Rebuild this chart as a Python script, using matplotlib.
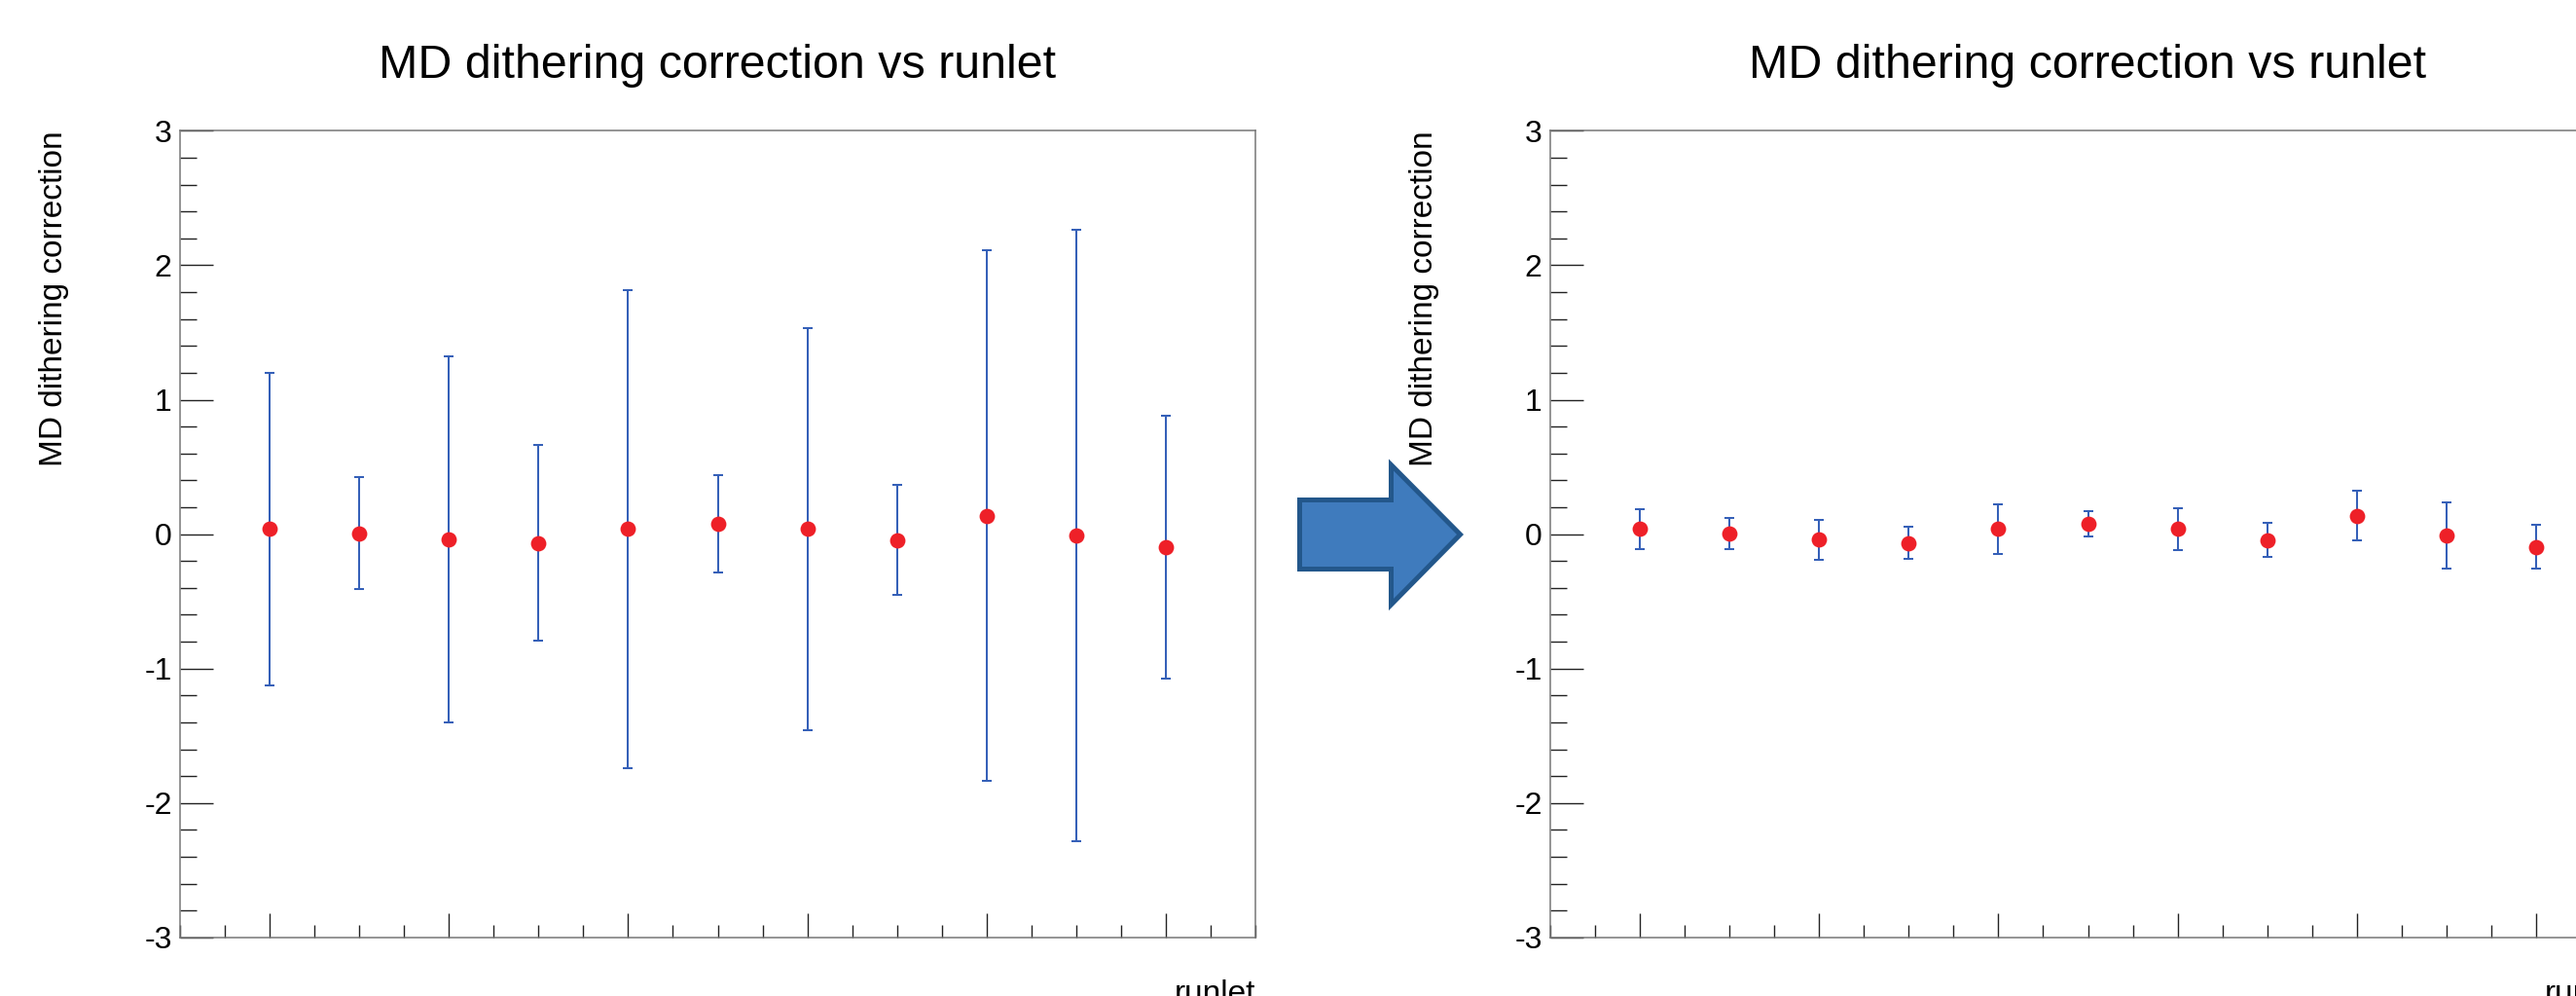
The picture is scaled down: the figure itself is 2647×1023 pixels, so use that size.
import matplotlib
matplotlib.use("Agg")
import matplotlib.pyplot as plt
from matplotlib.ticker import MultipleLocator, FixedLocator
from matplotlib.patches import Polygon

# runlet number and the MD dithering correction
runlet = [1, 2, 3, 4, 5, 6, 7, 8, 9, 10, 11]
md_corr = [0.037, 0.005, -0.042, -0.066, 0.037, 0.075, 0.037, -0.043, 0.137, -0.010, -0.094]

# errors before (left) and after (right)
err_before = [1.160, 0.416, 1.361, 0.726, 1.776, 0.362, 1.496, 0.411, 1.973, 2.273, 0.978]
err_after = [0.147, 0.113, 0.147, 0.119, 0.187, 0.096, 0.156, 0.124, 0.185, 0.249, 0.160]

title = "MD dithering correction vs runlet"
y_title = "MD dithering correction"
x_title = "runlet"

plt.rcParams["font.family"] = ["Liberation Sans", "DejaVu Sans"]
# plain hyphen for negative tick labels, like the original
plt.rcParams["axes.unicode_minus"] = False

W, H = 2647, 1023
fig = plt.figure(figsize=(W / 100, H / 100), dpi=100)


def make_panel(left_px, errs):
    # axes placed in pixels, the right one runs off the edge of the picture
    ax = fig.add_axes([left_px / W, 60.2 / H, 1105 / W, 828.4 / H])

    ax.errorbar(runlet, md_corr, yerr=errs, fmt="none", ecolor="#3560b8",
                elinewidth=1.45, capsize=3.3, capthick=1.45, zorder=2)
    ax.plot(runlet, md_corr, "o", color="#ee2028", markersize=11.4,
            markeredgewidth=0, zorder=3)

    ax.set_xlim(0, 12)
    ax.set_ylim(-3, 3)

    ax.xaxis.set_major_locator(FixedLocator(runlet[::2]))
    ax.xaxis.set_minor_locator(MultipleLocator(0.5))
    ax.yaxis.set_major_locator(MultipleLocator(1))
    ax.yaxis.set_minor_locator(MultipleLocator(0.2))

    ax.tick_params(axis="x", which="major", direction="in", length=17.8,
                   width=1.0, color="#222222", labelbottom=False)
    ax.tick_params(axis="x", which="minor", direction="in", length=9.1,
                   width=1.0, color="#222222")
    ax.tick_params(axis="y", which="major", direction="in", length=24.5,
                   width=1.0, color="#222222", labelsize=23, pad=6)
    ax.tick_params(axis="y", which="minor", direction="in", length=12.2,
                   width=1.0, color="#222222")

    for side in ax.spines.values():
        side.set_color("#777777")
        side.set_linewidth(1.1)

    ax.set_title(title, fontsize=34.8, pad=39)
    ax.set_ylabel(y_title, fontsize=24, loc="top")
    ax.yaxis.set_label_coords(-114 / 1105, 1.0)

    # axis title sits under the right end of the axis, cut by the picture edge
    ax.text(1.0, -67.2 / 828.4, x_title, transform=ax.transAxes,
            ha="right", va="baseline", fontsize=24)
    return ax


ax1 = make_panel(185, err_before)
ax2 = make_panel(1593, err_after)

# big blue arrow between the two panels (pixel positions)
arrow_px = [(1335.5, 513.5), (1429.5, 513.5), (1429.5, 477.5), (1500.5, 549.0),
            (1429.5, 621.0), (1429.5, 584.5), (1335.5, 584.5)]
arrow = Polygon([(x / W, 1 - y / H) for x, y in arrow_px], closed=True,
                transform=fig.transFigure, facecolor="#3f7bbd",
                edgecolor="#23578b", linewidth=3.6, joinstyle="miter", zorder=5)
fig.patches.append(arrow)

plt.savefig("out.png", dpi=100)
